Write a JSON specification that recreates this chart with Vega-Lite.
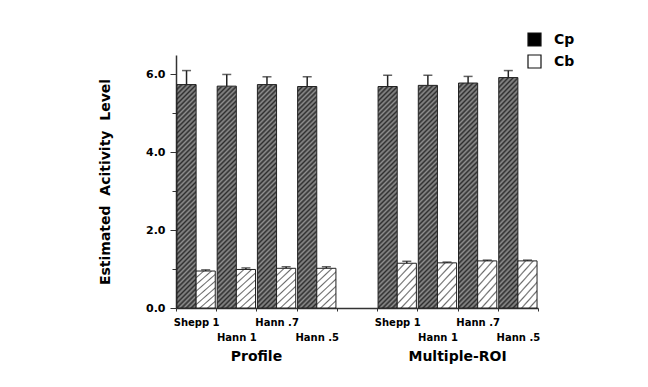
{
  "$schema": "https://vega.github.io/schema/vega-lite/v6.json",
  "width": 362,
  "height": 253,
  "autosize": "none",
  "padding": {"left": 176, "top": 55, "right": 110, "bottom": 79},
  "background": "white",
  "config": {"view": {"stroke": null}, "font": "DejaVu Sans"},
  "data": {
    "values": [
      {"group": "Profile", "method": "Shepp 1", "slot": "P:Shepp 1", "series": "Cp", "value": 5.74, "upper": 6.10},
      {"group": "Profile", "method": "Hann 1", "slot": "P:Hann 1", "series": "Cp", "value": 5.70, "upper": 6.00},
      {"group": "Profile", "method": "Hann .7", "slot": "P:Hann .7", "series": "Cp", "value": 5.74, "upper": 5.94},
      {"group": "Profile", "method": "Hann .5", "slot": "P:Hann .5", "series": "Cp", "value": 5.69, "upper": 5.94},
      {"group": "Multiple-ROI", "method": "Shepp 1", "slot": "R:Shepp 1", "series": "Cp", "value": 5.69, "upper": 5.98},
      {"group": "Multiple-ROI", "method": "Hann 1", "slot": "R:Hann 1", "series": "Cp", "value": 5.72, "upper": 5.98},
      {"group": "Multiple-ROI", "method": "Hann .7", "slot": "R:Hann .7", "series": "Cp", "value": 5.78, "upper": 5.95},
      {"group": "Multiple-ROI", "method": "Hann .5", "slot": "R:Hann .5", "series": "Cp", "value": 5.92, "upper": 6.10},
      {"group": "Profile", "method": "Shepp 1", "slot": "P:Shepp 1", "series": "Cb", "value": 0.95, "upper": 0.98},
      {"group": "Profile", "method": "Hann 1", "slot": "P:Hann 1", "series": "Cb", "value": 0.99, "upper": 1.03},
      {"group": "Profile", "method": "Hann .7", "slot": "P:Hann .7", "series": "Cb", "value": 1.02, "upper": 1.06},
      {"group": "Profile", "method": "Hann .5", "slot": "P:Hann .5", "series": "Cb", "value": 1.02, "upper": 1.06},
      {"group": "Multiple-ROI", "method": "Shepp 1", "slot": "R:Shepp 1", "series": "Cb", "value": 1.15, "upper": 1.20},
      {"group": "Multiple-ROI", "method": "Hann 1", "slot": "R:Hann 1", "series": "Cb", "value": 1.16, "upper": 1.18},
      {"group": "Multiple-ROI", "method": "Hann .7", "slot": "R:Hann .7", "series": "Cb", "value": 1.21, "upper": 1.23},
      {"group": "Multiple-ROI", "method": "Hann .5", "slot": "R:Hann .5", "series": "Cb", "value": 1.21, "upper": 1.23}
    ]
  },
  "layer": [
    {
      "transform": [{"filter": "datum.series == 'Cp'"}],
      "mark": {
        "type": "bar",
        "stroke": "#222",
        "strokeWidth": 1,
        "fill": {
          "gradient": "linear", "x1": 0, "y1": 0, "x2": 0.0923, "y2": 1.0778,
          "stops": [
            {"offset": 0.00, "color": "#2e2e2e"}, {"offset": 0.01, "color": "#8f8f8f"},
            {"offset": 0.02, "color": "#2e2e2e"}, {"offset": 0.03, "color": "#8f8f8f"},
            {"offset": 0.04, "color": "#2e2e2e"}, {"offset": 0.05, "color": "#8f8f8f"},
            {"offset": 0.06, "color": "#2e2e2e"}, {"offset": 0.07, "color": "#8f8f8f"},
            {"offset": 0.08, "color": "#2e2e2e"}, {"offset": 0.09, "color": "#8f8f8f"},
            {"offset": 0.10, "color": "#2e2e2e"}, {"offset": 0.11, "color": "#8f8f8f"},
            {"offset": 0.12, "color": "#2e2e2e"}, {"offset": 0.13, "color": "#8f8f8f"},
            {"offset": 0.14, "color": "#2e2e2e"}, {"offset": 0.15, "color": "#8f8f8f"},
            {"offset": 0.16, "color": "#2e2e2e"}, {"offset": 0.17, "color": "#8f8f8f"},
            {"offset": 0.18, "color": "#2e2e2e"}, {"offset": 0.19, "color": "#8f8f8f"},
            {"offset": 0.20, "color": "#2e2e2e"}, {"offset": 0.21, "color": "#8f8f8f"},
            {"offset": 0.22, "color": "#2e2e2e"}, {"offset": 0.23, "color": "#8f8f8f"},
            {"offset": 0.24, "color": "#2e2e2e"}, {"offset": 0.25, "color": "#8f8f8f"},
            {"offset": 0.26, "color": "#2e2e2e"}, {"offset": 0.27, "color": "#8f8f8f"},
            {"offset": 0.28, "color": "#2e2e2e"}, {"offset": 0.29, "color": "#8f8f8f"},
            {"offset": 0.30, "color": "#2e2e2e"}, {"offset": 0.31, "color": "#8f8f8f"},
            {"offset": 0.32, "color": "#2e2e2e"}, {"offset": 0.33, "color": "#8f8f8f"},
            {"offset": 0.34, "color": "#2e2e2e"}, {"offset": 0.35, "color": "#8f8f8f"},
            {"offset": 0.36, "color": "#2e2e2e"}, {"offset": 0.37, "color": "#8f8f8f"},
            {"offset": 0.38, "color": "#2e2e2e"}, {"offset": 0.39, "color": "#8f8f8f"},
            {"offset": 0.40, "color": "#2e2e2e"}, {"offset": 0.41, "color": "#8f8f8f"},
            {"offset": 0.42, "color": "#2e2e2e"}, {"offset": 0.43, "color": "#8f8f8f"},
            {"offset": 0.44, "color": "#2e2e2e"}, {"offset": 0.45, "color": "#8f8f8f"},
            {"offset": 0.46, "color": "#2e2e2e"}, {"offset": 0.47, "color": "#8f8f8f"},
            {"offset": 0.48, "color": "#2e2e2e"}, {"offset": 0.49, "color": "#8f8f8f"},
            {"offset": 0.50, "color": "#2e2e2e"}, {"offset": 0.51, "color": "#8f8f8f"},
            {"offset": 0.52, "color": "#2e2e2e"}, {"offset": 0.53, "color": "#8f8f8f"},
            {"offset": 0.54, "color": "#2e2e2e"}, {"offset": 0.55, "color": "#8f8f8f"},
            {"offset": 0.56, "color": "#2e2e2e"}, {"offset": 0.57, "color": "#8f8f8f"},
            {"offset": 0.58, "color": "#2e2e2e"}, {"offset": 0.59, "color": "#8f8f8f"},
            {"offset": 0.60, "color": "#2e2e2e"}, {"offset": 0.61, "color": "#8f8f8f"},
            {"offset": 0.62, "color": "#2e2e2e"}, {"offset": 0.63, "color": "#8f8f8f"},
            {"offset": 0.64, "color": "#2e2e2e"}, {"offset": 0.65, "color": "#8f8f8f"},
            {"offset": 0.66, "color": "#2e2e2e"}, {"offset": 0.67, "color": "#8f8f8f"},
            {"offset": 0.68, "color": "#2e2e2e"}, {"offset": 0.69, "color": "#8f8f8f"},
            {"offset": 0.70, "color": "#2e2e2e"}, {"offset": 0.71, "color": "#8f8f8f"},
            {"offset": 0.72, "color": "#2e2e2e"}, {"offset": 0.73, "color": "#8f8f8f"},
            {"offset": 0.74, "color": "#2e2e2e"}, {"offset": 0.75, "color": "#8f8f8f"},
            {"offset": 0.76, "color": "#2e2e2e"}, {"offset": 0.77, "color": "#8f8f8f"},
            {"offset": 0.78, "color": "#2e2e2e"}, {"offset": 0.79, "color": "#8f8f8f"},
            {"offset": 0.80, "color": "#2e2e2e"}, {"offset": 0.81, "color": "#8f8f8f"},
            {"offset": 0.82, "color": "#2e2e2e"}, {"offset": 0.83, "color": "#8f8f8f"},
            {"offset": 0.84, "color": "#2e2e2e"}, {"offset": 0.85, "color": "#8f8f8f"},
            {"offset": 0.86, "color": "#2e2e2e"}, {"offset": 0.87, "color": "#8f8f8f"},
            {"offset": 0.88, "color": "#2e2e2e"}, {"offset": 0.89, "color": "#8f8f8f"},
            {"offset": 0.90, "color": "#2e2e2e"}, {"offset": 0.91, "color": "#8f8f8f"},
            {"offset": 0.92, "color": "#2e2e2e"}, {"offset": 0.93, "color": "#8f8f8f"},
            {"offset": 0.94, "color": "#2e2e2e"}, {"offset": 0.95, "color": "#8f8f8f"},
            {"offset": 0.96, "color": "#2e2e2e"}, {"offset": 0.97, "color": "#8f8f8f"},
            {"offset": 0.98, "color": "#2e2e2e"}, {"offset": 0.99, "color": "#8f8f8f"},
            {"offset": 1.00, "color": "#2e2e2e"}
          ]
        }
      },
      "encoding": {
        "x": {
          "field": "slot", "type": "nominal",
          "scale": {"domain": ["P:Shepp 1", "P:Hann 1", "P:Hann .7", "P:Hann .5", "gap", "R:Shepp 1", "R:Hann 1", "R:Hann .7", "R:Hann .5"], "paddingInner": 0, "paddingOuter": 0},
          "axis": {
            "title": null,
            "tickBand": "extent",
            "labelExpr": "isString(datum.value) && datum.value != 'gap' ? substring(datum.value, 2) : ''",
            "labelAngle": 0,
            "labelFontSize": 10,
            "labelFontWeight": "bold",
            "labelColor": "black",
            "labelBaseline": "top",
            "tickSize": 3,
            "tickColor": "#333",
            "tickWidth": 1,
            "domainColor": "#333",
            "domainWidth": 1.5,
            "labelPadding": {"condition": {"test": "datum.value == 'P:Hann 1' || datum.value == 'P:Hann .5' || datum.value == 'R:Hann 1' || datum.value == 'R:Hann .5'", "value": 21}, "value": 6}
          }
        },
        "xOffset": {"field": "series", "type": "nominal", "scale": {"domain": ["Cp", "Cb"], "paddingInner": 0, "paddingOuter": 0.05}},
        "y": {
          "field": "value", "type": "quantitative",
          "scale": {"domain": [0, 6.5], "nice": false},
          "axis": {
            "title": "Estimated\u00a0 Acitivity\u00a0 Level",
            "titleFontSize": 14,
            "titleFontWeight": "bold",
            "titleColor": "black",
            "titlePadding": 33,
            "values": [0, 1, 2, 3, 4, 5, 6],
            "labelExpr": "datum.value % 2 == 0 ? format(datum.value, '.1f') : ''",
            "labelFontSize": 11,
            "labelFontWeight": "bold",
            "labelColor": "black",
            "labelPadding": 5,
            "tickSize": {"condition": {"test": "datum.value % 2 == 0", "value": 6}, "value": 4},
            "tickColor": "#333",
            "domainColor": "#333",
            "domainWidth": 1.5,
            "grid": false
          }
        }
      }
    },
    {
      "transform": [{"filter": "datum.series == 'Cb'"}],
      "mark": {
        "type": "bar",
        "stroke": "#222",
        "strokeWidth": 1,
        "fill": {
          "gradient": "linear", "x1": 0, "y1": 0, "x2": 0.548, "y2": 1.205,
          "stops": [
            {"offset": 0, "color": "#6a6a6a"}, {"offset": 0.025, "color": "#ffffff"}, {"offset": 0.1, "color": "#ffffff"},
            {"offset": 0.125, "color": "#6a6a6a"}, {"offset": 0.15, "color": "#ffffff"}, {"offset": 0.225, "color": "#ffffff"},
            {"offset": 0.25, "color": "#6a6a6a"}, {"offset": 0.275, "color": "#ffffff"}, {"offset": 0.35, "color": "#ffffff"},
            {"offset": 0.375, "color": "#6a6a6a"}, {"offset": 0.4, "color": "#ffffff"}, {"offset": 0.475, "color": "#ffffff"},
            {"offset": 0.5, "color": "#6a6a6a"}, {"offset": 0.525, "color": "#ffffff"}, {"offset": 0.6, "color": "#ffffff"},
            {"offset": 0.625, "color": "#6a6a6a"}, {"offset": 0.65, "color": "#ffffff"}, {"offset": 0.725, "color": "#ffffff"},
            {"offset": 0.75, "color": "#6a6a6a"}, {"offset": 0.775, "color": "#ffffff"}, {"offset": 0.85, "color": "#ffffff"},
            {"offset": 0.875, "color": "#6a6a6a"}, {"offset": 0.9, "color": "#ffffff"}, {"offset": 0.975, "color": "#ffffff"},
            {"offset": 1, "color": "#6a6a6a"}
          ]
        }
      },
      "encoding": {
        "x": {"field": "slot", "type": "nominal"},
        "xOffset": {"field": "series", "type": "nominal"},
        "y": {"field": "value", "type": "quantitative"}
      }
    },
    {
      "mark": {"type": "rule", "color": "#222", "strokeWidth": 1.5},
      "encoding": {
        "x": {"field": "slot", "type": "nominal"},
        "xOffset": {"field": "series", "type": "nominal"},
        "y": {"field": "value", "type": "quantitative"},
        "y2": {"field": "upper"}
      }
    },
    {
      "mark": {"type": "tick", "orient": "horizontal", "size": 9, "thickness": 1.5, "color": "#222"},
      "encoding": {
        "x": {"field": "slot", "type": "nominal"},
        "xOffset": {"field": "series", "type": "nominal"},
        "y": {"field": "upper", "type": "quantitative"}
      }
    },
    {
      "mark": {"type": "square", "opacity": 0},
      "encoding": {
        "x": {"field": "slot", "type": "nominal"},
        "xOffset": {"field": "series", "type": "nominal"},
        "y": {"field": "value", "type": "quantitative"},
        "fill": {
          "field": "series", "type": "nominal",
          "scale": {"domain": ["Cp", "Cb"], "range": ["#000000", "#ffffff"]},
          "legend": {
            "orient": "none", "legendX": 351, "legendY": -23,
            "title": null, "padding": 0,
            "symbolType": "square", "symbolSize": 169,
            "symbolStrokeColor": "#111", "symbolStrokeWidth": 1.2, "symbolOpacity": 1,
            "labelFontSize": 14, "labelFontWeight": "bold", "labelColor": "black",
            "labelOffset": 12, "rowPadding": 3
          }
        }
      }
    },
    {
      "data": {"values": [{"slot": "P:Hann 1", "group": "Profile"}, {"slot": "R:Hann 1", "group": "Multiple-ROI"}]},
      "mark": {"type": "text", "fontSize": 14, "fontWeight": "bold", "color": "black", "align": "center", "baseline": "middle"},
      "encoding": {
        "x": {"field": "slot", "type": "nominal", "bandPosition": 1},
        "y": {"datum": -1.26, "type": "quantitative"},
        "text": {"field": "group"}
      }
    }
  ]
}
